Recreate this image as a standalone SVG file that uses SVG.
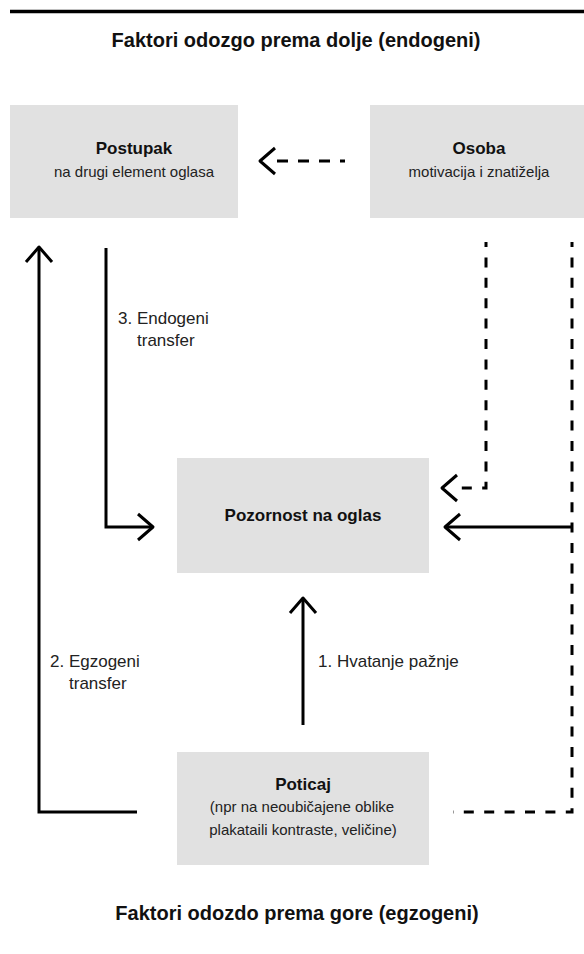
<svg xmlns="http://www.w3.org/2000/svg" width="584" height="954" viewBox="0 0 584 954">
  <style>
    .box { fill: #e1e1e1; }
    .title { font-family: "Liberation Sans", Arial, sans-serif; font-size: 20px; font-weight: bold; fill: #111; text-anchor: middle; }
    .head { font-family: "Liberation Sans", Arial, sans-serif; font-size: 17px; font-weight: bold; fill: #111; text-anchor: middle; }
    .sub { font-family: "Liberation Sans", Arial, sans-serif; font-size: 15px; fill: #222; text-anchor: middle; }
    .lbl { font-family: "Liberation Sans", Arial, sans-serif; font-size: 17px; fill: #222; }
    .solid { fill: none; stroke: #000; stroke-width: 3; }
    .dash { fill: none; stroke: #000; stroke-width: 3; stroke-dasharray: 10 10.4; stroke-dashoffset: 5; }
    .dashh { fill: none; stroke: #000; stroke-width: 3; stroke-dasharray: 11 10; stroke-dashoffset: 6; }
  </style>
  <defs>
    <marker id="arr" markerUnits="userSpaceOnUse" markerWidth="40" markerHeight="40" viewBox="-20 -20 40 40" refX="0" refY="0" orient="auto" overflow="visible">
      <path d="M-15,-13 L0,0 L-15,13" fill="none" stroke="#000" stroke-width="3" stroke-linejoin="round"/>
    </marker>
    <marker id="arrAhead" markerUnits="userSpaceOnUse" markerWidth="40" markerHeight="40" viewBox="-20 -20 40 40" refX="0" refY="0" orient="auto" overflow="visible">
      <path d="M0,-13 L15,0 L0,13" fill="none" stroke="#000" stroke-width="3" stroke-linejoin="round"/>
    </marker>
  </defs>

  <rect x="0" y="0" width="584" height="954" fill="#fff"/>
  <line x1="10" y1="11.5" x2="584" y2="11.5" stroke="#000" stroke-width="3.5"/>
  <text class="title" x="296" y="47">Faktori odozgo prema dolje (endogeni)</text>
  <text class="title" x="297" y="920">Faktori odozdo prema gore (egzogeni)</text>

  <g id="postupak">
    <rect class="box" x="10" y="105" width="228" height="113"/>
    <text class="head" x="134" y="154">Postupak</text>
    <text class="sub" x="134" y="177">na drugi element oglasa</text>
  </g>
  <g id="osoba">
    <rect class="box" x="370" y="105" width="214" height="113"/>
    <text class="head" x="479" y="154">Osoba</text>
    <text class="sub" x="479" y="177">motivacija i znatiželja</text>
  </g>
  <g id="pozornost">
    <rect class="box" x="177" y="458" width="252" height="115"/>
    <text class="head" x="303" y="521">Pozornost na oglas</text>
  </g>
  <g id="poticaj">
    <rect class="box" x="177" y="752" width="252" height="113"/>
    <text class="head" x="303" y="790">Poticaj</text>
    <text class="sub" x="302" y="812">(npr na neoubičajene oblike</text>
    <text class="sub" x="303" y="835">plakataili kontraste, veličine)</text>
  </g>

  <g id="connectors">
    <path class="dashh" d="M345,161 L275,161" marker-end="url(#arrAhead)"/>
    <path class="dash" d="M486,242 L486,488 L457,488" marker-end="url(#arrAhead)"/>
    <path class="dash" d="M572,242 L572,812 L453,812"/>
    <path class="solid" d="M572,527 L445,527" marker-end="url(#arr)"/>
    <path class="solid" d="M303,725 L303,598" marker-end="url(#arr)"/>
    <path class="solid" d="M106,248 L106,527 L153,527" marker-end="url(#arr)"/>
    <path class="solid" d="M137,812 L39,812 L39,247" marker-end="url(#arr)"/>
    <text class="lbl" x="118" y="324">3. Endogeni</text>
    <text class="lbl" x="137" y="346">transfer</text>
    <text class="lbl" x="50" y="667">2. Egzogeni</text>
    <text class="lbl" x="69" y="689">transfer</text>
    <text class="lbl" x="318" y="667">1. Hvatanje pažnje</text>
  </g>
</svg>
